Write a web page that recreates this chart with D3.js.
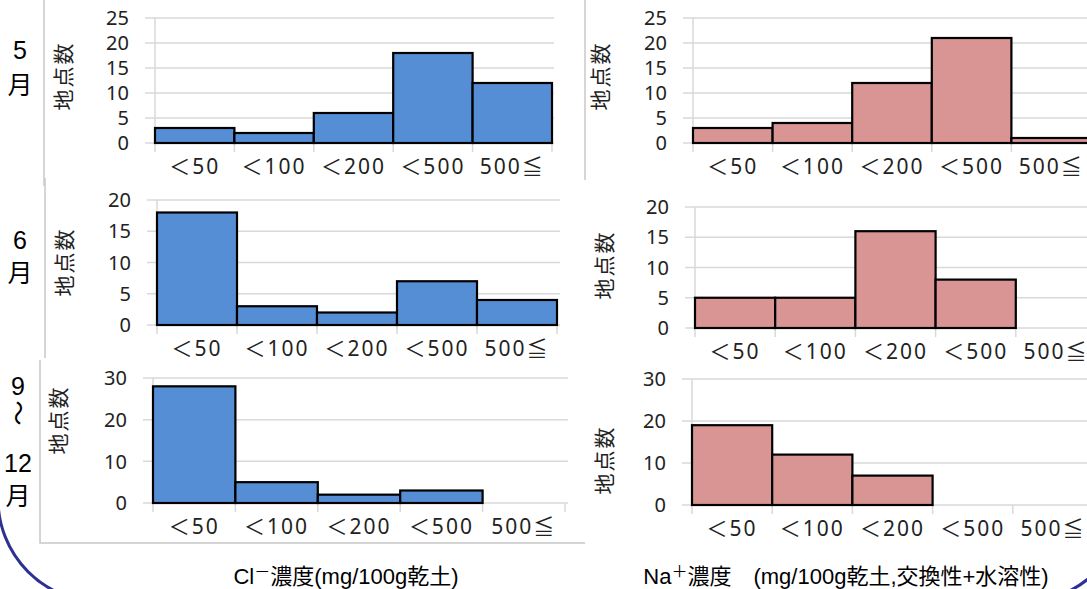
<!DOCTYPE html>
<html>
<head>
<meta charset="utf-8">
<title>地点数ヒストグラム</title>
<style>
  body { margin: 0; background: #fff; }
  svg { display: block; }
</style>
</head>
<body>
<script src="https://d3js.org/d3.v7.min.js"></script>
<script>
// データ
var categories = ["＜50", "＜100", "＜200", "＜500", "500≦"];
var clMay = [3, 2, 6, 18, 12];
var naMay = [3, 4, 12, 21, 1];
var clJun = [18, 3, 2, 7, 4];
var naJun = [5, 5, 16, 8, 0];
var clSepDec = [28, 5, 2, 3, 0];
var naSepDec = [19, 12, 7, 0, 0];
var ticksMay = [0, 5, 10, 15, 20, 25];
var ticksJun = [0, 5, 10, 15, 20];
var ticksSepDec = [0, 10, 20, 30];
var monthLabels = [["5", "月"], ["6", "月"], ["9", "～", "12", "月"]];
var yTitle = "地点数";
var clTitle = ["Cl", "－", "濃度(mg/100g乾土)"];
var naTitle = ["Na", "＋", "濃度　(mg/100g乾土,交換性+水溶性)"];

// 色
var blue = "#558ed5";
var pink = "#d99594";
var grid = "#d9d9d9";
var font = "'Noto Sans', 'Noto Sans CJK JP', sans-serif";
var fontTitle = "'Liberation Sans', 'Noto Sans CJK JP', sans-serif";

var W = 1087, H = 589;
var svg = d3.select("body").append("svg").attr("width", W).attr("height", H);

// 枠線など
var frame = svg.append("g").attr("stroke", "#c8c8c8").attr("stroke-width", 1.5).attr("fill", "none");
frame.append("line").attr("x1", 44).attr("x2", 44).attr("y1", 0).attr("y2", 186);
frame.append("line").attr("x1", 45).attr("x2", 45).attr("y1", 178).attr("y2", 358);
frame.append("path").attr("d", "M40,360 V543 H585");
frame.append("line").attr("x1", 585).attr("x2", 585).attr("y1", 0).attr("y2", 180);

// パネル配置
var panels = [
  {values: clMay, ticks: ticksMay, color: blue, x0: 155, x1: 552, y0: 143, y1: 18, right: 554, titleX: 63, titleY: 76},
  {values: naMay, ticks: ticksMay, color: pink, x0: 693, x1: 1091, y0: 143, y1: 18, right: 1087, titleX: 600, titleY: 76},
  {values: clJun, ticks: ticksJun, color: blue, x0: 157, x1: 557, y0: 325, y1: 200, right: 560, titleX: 64, titleY: 262},
  {values: naJun, ticks: ticksJun, color: pink, x0: 695, x1: 1096, y0: 328, y1: 207, right: 1087, titleX: 604, titleY: 265},
  {values: clSepDec, ticks: ticksSepDec, color: blue, x0: 153, x1: 565, y0: 503, y1: 378, right: 568, titleX: 58, titleY: 420},
  {values: naSepDec, ticks: ticksSepDec, color: pink, x0: 692, x1: 1093, y0: 505, y1: 379, right: 1087, titleX: 604, titleY: 460}
];

panels.forEach(function(p) {
  var g = svg.append("g");
  var x = d3.scaleBand().domain(categories).range([p.x0, p.x1]).paddingInner(0).paddingOuter(0);
  var y = d3.scaleLinear().domain([0, d3.max(p.ticks)]).range([p.y0, p.y1]);

  // グリッド線
  g.selectAll("line.grid").data(p.ticks).enter().append("line")
    .attr("x1", p.x0 - 10).attr("x2", p.right)
    .attr("y1", function(d) { return y(d); }).attr("y2", function(d) { return y(d); })
    .attr("stroke", grid).attr("stroke-width", 1.5);

  // 縦軸と目盛り
  g.append("line").attr("x1", p.x0).attr("x2", p.x0).attr("y1", p.y1).attr("y2", p.y0 + 9)
    .attr("stroke", grid).attr("stroke-width", 1.5);
  g.selectAll("line.tick").data(categories).enter().append("line")
    .attr("x1", function(d) { return x(d) + x.bandwidth(); })
    .attr("x2", function(d) { return x(d) + x.bandwidth(); })
    .attr("y1", p.y0).attr("y2", p.y0 + 9)
    .attr("stroke", grid).attr("stroke-width", 1.5);

  // 棒
  var rows = categories.map(function(c, i) { return {c: c, v: p.values[i]}; }).filter(function(d) { return d.v > 0; });
  g.selectAll("rect").data(rows).enter().append("rect")
    .attr("x", function(d) { return x(d.c); })
    .attr("width", x.bandwidth())
    .attr("y", function(d) { return y(d.v); })
    .attr("height", function(d) { return y(0) - y(d.v); })
    .attr("fill", p.color).attr("stroke", "#000").attr("stroke-width", 2.2);

  // 目盛りラベル
  g.selectAll("text.ytick").data(p.ticks).enter().append("text")
    .attr("x", p.x0 - 26).attr("y", function(d) { return y(d); })
    .attr("dy", "0.36em").attr("text-anchor", "end")
    .style("font-family", font).style("font-size", "20px").attr("fill", "#222")
    .text(function(d) { return d; });

  g.selectAll("text.xtick").data(categories).enter().append("text")
    .attr("x", function(d) { return x(d) + x.bandwidth() / 2; }).attr("y", p.y0 + 31)
    .attr("text-anchor", "middle")
    .style("font-family", font).style("font-size", "21px").style("letter-spacing", "2px").attr("fill", "#222")
    .text(function(d) { return d; });

  // 縦軸タイトル
  g.append("text")
    .attr("transform", "translate(" + p.titleX + "," + p.titleY + ") rotate(-90)")
    .attr("text-anchor", "middle").attr("dy", "0.36em")
    .style("font-family", font).style("font-size", "21px").style("letter-spacing", "2px").attr("fill", "#222")
    .text(yTitle);
});

// 月ラベル
var monthPos = [[50, 85], [240, 273], [386, 413, 463, 496]];
monthLabels.forEach(function(lines, i) {
  lines.forEach(function(t, j) {
    var ty = monthPos[i][j];
    var txt = svg.append("text")
      .attr("text-anchor", "middle").attr("dy", "0.36em")
      .style("font-family", fontTitle).style("font-size", "25px").attr("fill", "#000")
      .text(t);
    if (t === "～") {
      txt.style("font-family", "'Noto Sans CJK JP', sans-serif")
        .attr("transform", "translate(18," + ty + ") rotate(90)");
    } else {
      txt.attr("x", i === 2 ? 18 : 20).attr("y", ty);
    }
  });
});

// 横軸タイトル
function axisTitle(parts, cx) {
  var t = svg.append("text").attr("x", cx).attr("y", 584).attr("text-anchor", "middle")
    .style("font-family", fontTitle).style("font-size", "22px").attr("fill", "#000");
  t.append("tspan").text(parts[0]);
  t.append("tspan").attr("dy", -7).style("font-size", "16px")
    .style("font-family", "'Noto Sans CJK JP', sans-serif").text(parts[1]);
  t.append("tspan").attr("dy", 7).text(parts[2]);
}
axisTitle(clTitle, 346);
axisTitle(naTitle, 846);

// 飾りの角丸枠
svg.append("rect").attr("x", -2).attr("y", -300).attr("width", 1128).attr("height", 902)
  .attr("rx", 103).attr("ry", 103)
  .attr("fill", "none").attr("stroke", "#2e3192").attr("stroke-width", 3);
</script>
</body>
</html>
